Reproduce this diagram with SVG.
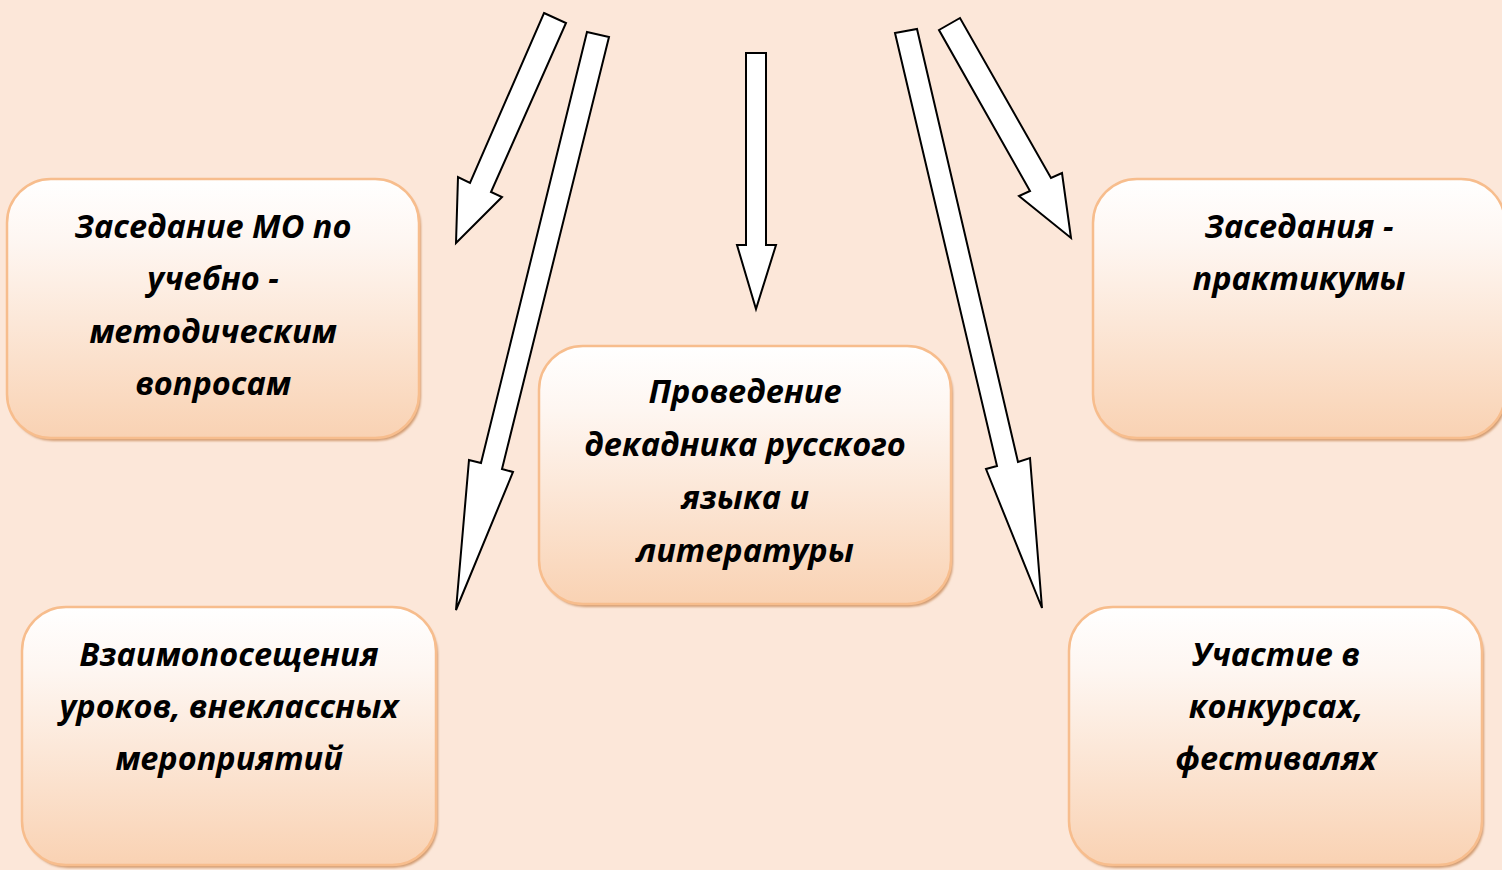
<svg xmlns="http://www.w3.org/2000/svg" width="1502" height="870" viewBox="0 0 1502 870">
<defs>
<linearGradient id="boxfill" x1="0" y1="0" x2="0" y2="1">
<stop offset="0" stop-color="#FFFFFF"/>
<stop offset="0.25" stop-color="#FEF6F1"/>
<stop offset="1" stop-color="#F9D2B3"/>
</linearGradient>
<filter id="sh" x="-5%" y="-5%" width="110%" height="115%">
<feGaussianBlur stdDeviation="1.2"/>
</filter>
</defs>
<style>
.bg{fill:#FCE7D9}
.shadow{fill:#D29C72;filter:url(#sh)}
.box{fill:url(#boxfill);stroke:#F7BD8D;stroke-width:2.5}
.lbl{font-family:"Open Sans","Noto Sans",sans-serif;font-weight:bold;font-style:italic;font-size:32.5px;fill:#000;text-anchor:middle}
.arr{fill:#FFFFFF;stroke:#000;stroke-width:2;stroke-linejoin:miter}
</style>
<rect class="bg" x="0" y="0" width="1502" height="870"/>

<g id="node-zasedanie-mo">
<rect class="shadow" x="9" y="182" width="412" height="259" rx="44"/>
<rect class="box" x="7" y="179" width="412" height="259" rx="44"/>
<text class="lbl" x="213" y="238">Заседание МО по</text>
<text class="lbl" x="213" y="290">учебно -</text>
<text class="lbl" x="213" y="343">методическим</text>
<text class="lbl" x="213" y="395">вопросам</text>
</g>

<g id="node-zasedaniya-praktikumy">
<rect class="shadow" x="1095" y="182" width="412" height="259" rx="44"/>
<rect class="box" x="1093" y="179" width="412" height="259" rx="44"/>
<text class="lbl" x="1299" y="238">Заседания -</text>
<text class="lbl" x="1299" y="290">практикумы</text>
</g>

<g id="node-dekadnik">
<rect class="shadow" x="541" y="349" width="412" height="258" rx="44"/>
<rect class="box" x="539" y="346" width="412" height="258" rx="44"/>
<text class="lbl" x="745" y="403">Проведение</text>
<text class="lbl" x="745" y="456">декадника русского</text>
<text class="lbl" x="745" y="509">языка и</text>
<text class="lbl" x="745" y="562">литературы</text>
</g>

<g id="node-vzaimoposeshcheniya">
<rect class="shadow" x="24" y="610" width="414" height="258" rx="44"/>
<rect class="box" x="22" y="607" width="414" height="258" rx="44"/>
<text class="lbl" x="229" y="666">Взаимопосещения</text>
<text class="lbl" x="229" y="718">уроков, внеклассных</text>
<text class="lbl" x="229" y="770">мероприятий</text>
</g>

<g id="node-uchastie">
<rect class="shadow" x="1071" y="610" width="413" height="258" rx="44"/>
<rect class="box" x="1069" y="607" width="413" height="258" rx="44"/>
<text class="lbl" x="1276" y="666">Участие в</text>
<text class="lbl" x="1276" y="718">конкурсах,</text>
<text class="lbl" x="1276" y="770">фестивалях</text>
</g>

<g id="connectors">
<polygon class="arr" points="544,13 566,23 491,192 502,197 456,243 458,177 470,183"/>
<polygon class="arr" points="587,32 609,37 502,469 513,472 456,610 469,460 481,463"/>
<polygon class="arr" points="746,53 766,53 766,245 776,245 756,309 737,245 746,245"/>
<polygon class="arr" points="895,33 917,29 1018,462 1030,458 1042,608 986,469 997,466"/>
<polygon class="arr" points="939,30 960,18 1051,178 1062,173 1071,238 1019,196 1030,191"/>
</g>
</svg>
